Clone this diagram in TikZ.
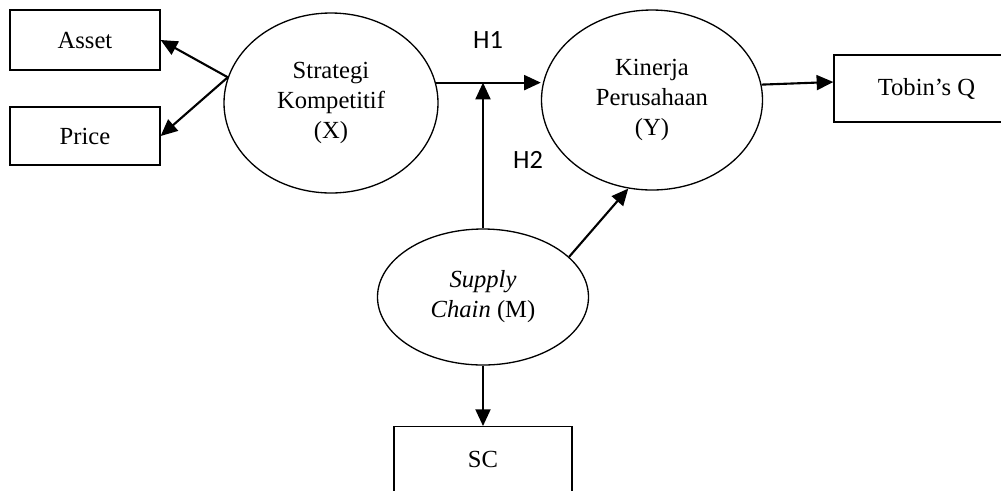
\documentclass[tikz,border=0pt]{standalone}
\usepackage{fontspec}
\setmainfont{Liberation Serif}
\newfontfamily\labelfont{Carlito}
\usepackage{xcolor}
\usepackage{tikz}
\usetikzlibrary{arrows.meta,positioning,shapes.geometric}
\definecolor{inkblack}{HTML}{000000}
\tikzset{
  pathline/.style={inkblack, -{Triangle[length=9.5pt,width=8.5pt]}, line width=1.2pt},
  indbox/.style={draw=inkblack, line width=0.75pt, rectangle, align=center, font=\fontsize{14}{17}\selectfont},
  latent/.style={draw=inkblack, line width=0.75pt, ellipse, align=center, inner sep=0pt, font=\fontsize{14}{17}\selectfont},
  hyplabel/.style={font=\labelfont\fontsize{15}{18}\selectfont}
}
\begin{document}
\begin{tikzpicture}
  \useasboundingbox (0,0) rectangle (20.02,-9.8);
  % indicators
  \node[indbox, minimum width=3.0cm, minimum height=1.2cm] (asset) at (1.70,-0.80) {Asset};
  \node[indbox, minimum width=3.0cm, minimum height=1.16cm] (price) at (1.70,-2.72) {Price};
  \node[indbox, minimum width=3.7cm, minimum height=1.34cm] (tobin) at (18.53,-1.77) {Tobin’s Q};
  \node[indbox, minimum width=3.56cm, minimum height=1.32cm, anchor=north] (sc) at (9.66,-8.52) {SC};
  % latent variables
  \node[latent, minimum width=4.28cm, minimum height=3.6cm] (strat) at (6.62,-2.06) {Strategi\\Kompetitif\\(X)};
  \node[latent, minimum width=4.42cm, minimum height=3.6cm] (kinerja) at (13.04,-2.00) {Kinerja\\Perusahaan\\(Y)};
  \node[latent, minimum width=4.22cm, minimum height=2.72cm] (supply) at (9.66,-5.94) {\textit{Supply}\\\textit{Chain} (M)};
  % hypotheses
  \node[hyplabel] (h1) at (9.76,-0.80) {H1};
  \node[hyplabel] (h2) at (10.56,-3.20) {H2};
  \coordinate (junction) at (strat.11 -| supply.north);
  % paths
  \draw[pathline] (strat.166) -- (asset.east);
  \draw[pathline] (strat.166) -- (price.east);
  \draw[pathline] (strat.11) -- (strat.11 -| kinerja.west);
  \draw[pathline] (supply.north) -- (junction);
  \draw[pathline] (supply.25) -- (kinerja.255);
  \draw[pathline] (kinerja.8) -- (tobin.176);
  \draw[pathline] (supply.south) -- (sc.north);
\end{tikzpicture}
\end{document}
